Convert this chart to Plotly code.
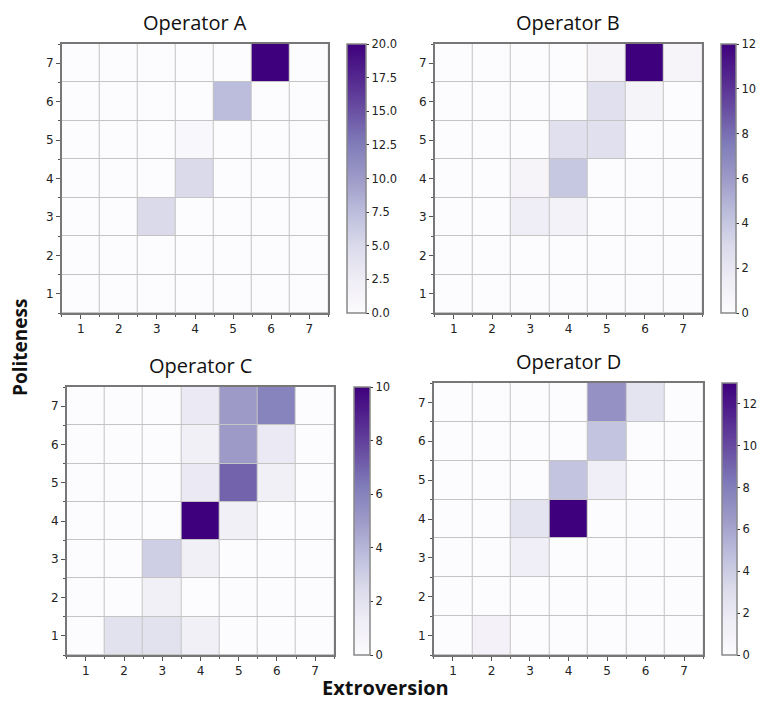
import plotly.graph_objects as go

levels = [1, 2, 3, 4, 5, 6, 7]
titles = ["Operator A", "Operator B", "Operator C", "Operator D"]

# rows: politeness 1..7 ; columns: extroversion 1..7
op_a = [
    [0, 0, 0, 0, 0, 0, 0],
    [0, 0, 0, 0, 0, 0, 0],
    [0, 0, 5, 0, 0, 0, 0],
    [0, 0, 0, 5, 0, 0, 0],
    [0, 0, 0, 0.7, 0, 0, 0],
    [0, 0, 0, 0, 7.5, 0, 0],
    [0, 0, 0, 0, 0, 20, 0],
]
op_b = [
    [0, 0, 0, 0, 0, 0, 0],
    [0, 0, 0, 0, 0, 0, 0],
    [0, 0, 1.5, 1, 0, 0, 0],
    [0, 0, 0.7, 4, 0, 0, 0],
    [0, 0, 0, 2.5, 2.5, 0, 0],
    [0, 0, 0, 0, 2.5, 0.8, 0],
    [0, 0, 0, 0, 0.7, 12, 0.7],
]
op_c = [
    [0, 2, 2, 1, 0, 0, 0],
    [0, 0, 1, 0, 0, 0, 0],
    [0, 0, 3, 1, 0, 0, 0],
    [0, 0, 0, 10, 1, 0, 0],
    [0, 0, 0, 1.5, 7, 1, 0],
    [0, 0, 0, 1, 5, 1.5, 0],
    [0, 0, 0, 1.5, 5, 6, 0],
]
op_d = [
    [0, 1, 0, 0, 0, 0, 0],
    [0, 0, 0, 0, 0, 0, 0],
    [0, 0, 1.5, 0, 0, 0, 0],
    [0, 0, 2.5, 13, 0, 0, 0],
    [0, 0, 0, 4.5, 1.5, 0, 0],
    [0, 0, 0, 0, 4.5, 0, 0],
    [0, 0, 0, 0, 7, 2.5, 0],
]
zmaxes = [20, 12, 10, 13]
cbar_ticks = [[0, 2.5, 5, 7.5, 10, 12.5, 15, 17.5, 20],
              [0, 2, 4, 6, 8, 10, 12],
              [0, 2, 4, 6, 8, 10],
              [0, 2, 4, 6, 8, 10, 12]]

VW, VH = 767, 711          # browser viewport
OFF = 8                    # page body margin
W, H = VW - 2 * OFF, VH - 2 * OFF   # figure fits without scrollbars
# pixel boxes (screen coords): (left, right, top, bottom) and colorbar (left, thickness)
boxes = [(62, 330, 44, 313), (437, 706, 44, 313), (67, 336, 387, 655), (436, 707, 383, 655)]
cbars = [(349, 19), (725, 15), (356, 16), (726, 15)]


def px(v):
    return (v - OFF) / W


def py(v):
    return 1 - (v - OFF) / H


fig = go.Figure()
data = [op_a, op_b, op_c, op_d]
for i in range(4):
    l, r, t, b = boxes[i]
    xa = "x" if i == 0 else f"x{i+1}"
    ya = "y" if i == 0 else f"y{i+1}"
    cl, th = cbars[i]
    fig.add_trace(go.Heatmap(
        z=data[i], x=levels, y=levels, xaxis=xa, yaxis=ya,
        colorscale="Purples", zmin=0, zmax=zmaxes[i],
        xgap=1, ygap=1,
        colorbar=dict(
            x=px(cl), xanchor="left", thickness=th, thicknessmode="pixels",
            len=(b - t) / H, lenmode="fraction", y=py(t), yanchor="top",
            outlinecolor="#888", outlinewidth=1.5,
            tickvals=cbar_ticks[i],
            ticktext=[f"{v:.1f}" for v in cbar_ticks[i]] if i == 0 else [str(v) for v in cbar_ticks[i]],
            ticks="outside", ticklen=3, tickcolor="#333",
            tickfont=dict(size=11.5, color="#222", family="DejaVu Sans"),
            xpad=0, ypad=0,
        ),
    ))
    axis_common = dict(
        range=[0.5, 7.5], tickvals=levels, ticks="outside", ticklen=4,
        tickcolor="#555", showgrid=False, zeroline=False,
        showline=True, linecolor="#777", linewidth=1.5, mirror=True,
        tickfont=dict(size=12, color="#222", family="DejaVu Sans"),
        minor=dict(tickvals=[0.5 + k for k in range(8)], ticks="outside", ticklen=2, tickcolor="#555"),
        fixedrange=True,
    )
    fig.layout[("xaxis" if i == 0 else f"xaxis{i+1}")] = dict(
        axis_common, domain=[px(l), px(r)], anchor=ya)
    fig.layout[("yaxis" if i == 0 else f"yaxis{i+1}")] = dict(
        axis_common, domain=[py(b), py(t)], anchor=xa)
    fig.add_annotation(
        text=titles[i], x=px((l + r) / 2), y=py(t - 6), xref="paper", yref="paper",
        xanchor="center", yanchor="bottom", showarrow=False,
        font=dict(size=20, color="#111", family="Open Sans"))

fig.add_annotation(text="<b>Politeness</b>", x=px(20), y=py(347), xref="paper", yref="paper",
                   textangle=-90, showarrow=False, xanchor="center", yanchor="middle",
                   font=dict(size=19, color="#111", family="Open Sans"))
fig.add_annotation(text="<b>Extroversion</b>", x=px(388), y=py(703), xref="paper", yref="paper",
                   showarrow=False, xanchor="center", yanchor="bottom",
                   font=dict(size=20, color="#111", family="Open Sans"))

fig.update_layout(
    width=W, height=H, margin=dict(l=0, r=0, t=0, b=0),
    paper_bgcolor="white", plot_bgcolor="#c4c4c4",
    showlegend=False,
)
fig.write_html("out.html")
